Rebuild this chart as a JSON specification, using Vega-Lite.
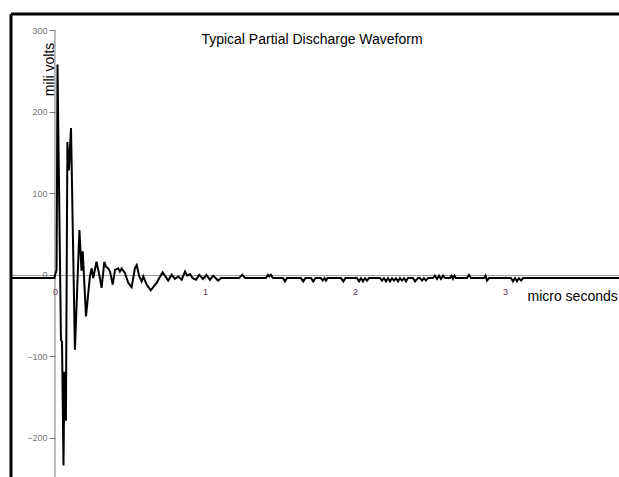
{
  "$schema": "https://vega.github.io/schema/vega-lite/v6.json",
  "width": 608,
  "height": 463,
  "autosize": {"type": "none"},
  "padding": {"left": 11, "top": 14, "right": 0, "bottom": 0},
  "background": "white",
  "config": {"view": {"stroke": null}, "font": "Liberation Sans"},
  "title": {"text": "Typical Partial Discharge Waveform", "fontSize": 14, "fontWeight": "normal", "color": "black", "anchor": "middle", "frame": "group", "dx": -3, "offset": -34, "font": "Liberation Sans"},
  "layer": [
    {
      "data": {"values": [{}]},
      "mark": {"type": "rule", "color": "#7a7a7a", "strokeWidth": 1},
      "encoding": {"x": {"datum": 0, "type": "quantitative"}, "y": {"datum": -250, "type": "quantitative"}, "y2": {"datum": 300}}
    },
    {
      "data": {"values": [
        {"t": -0.293, "mv": -4}, {"t": -0.005, "mv": -4}, {"t": 0.011, "mv": 6}, {"t": 0.017, "mv": 258},
        {"t": 0.040, "mv": -80}, {"t": 0.047, "mv": -82}, {"t": 0.057, "mv": -234}, {"t": 0.063, "mv": -119},
        {"t": 0.073, "mv": -179}, {"t": 0.083, "mv": 163}, {"t": 0.093, "mv": 128}, {"t": 0.107, "mv": 180},
        {"t": 0.133, "mv": -92}, {"t": 0.163, "mv": 55}, {"t": 0.177, "mv": 5}, {"t": 0.185, "mv": 29},
        {"t": 0.207, "mv": -51}, {"t": 0.233, "mv": -2}, {"t": 0.245, "mv": 8}, {"t": 0.255, "mv": -4},
        {"t": 0.277, "mv": 16}, {"t": 0.300, "mv": -4}, {"t": 0.311, "mv": -16}, {"t": 0.329, "mv": 16},
        {"t": 0.340, "mv": 10}, {"t": 0.355, "mv": 8}, {"t": 0.367, "mv": 4}, {"t": 0.385, "mv": -12},
        {"t": 0.400, "mv": 6}, {"t": 0.422, "mv": 8}, {"t": 0.433, "mv": 4}, {"t": 0.445, "mv": 8},
        {"t": 0.467, "mv": 2}, {"t": 0.489, "mv": -10}, {"t": 0.511, "mv": -15}, {"t": 0.533, "mv": 8},
        {"t": 0.545, "mv": 12}, {"t": 0.562, "mv": -2}, {"t": 0.578, "mv": -8}, {"t": 0.589, "mv": -2},
        {"t": 0.611, "mv": -12}, {"t": 0.638, "mv": -19}, {"t": 0.655, "mv": -15}, {"t": 0.678, "mv": -10},
        {"t": 0.695, "mv": -4}, {"t": 0.718, "mv": 3}, {"t": 0.733, "mv": -1}, {"t": 0.755, "mv": -7},
        {"t": 0.778, "mv": 0}, {"t": 0.800, "mv": -5}, {"t": 0.822, "mv": -2}, {"t": 0.845, "mv": -6},
        {"t": 0.867, "mv": 4}, {"t": 0.882, "mv": -1}, {"t": 0.900, "mv": 1}, {"t": 0.918, "mv": -4},
        {"t": 0.940, "mv": -6}, {"t": 0.962, "mv": 0}, {"t": 0.987, "mv": -5}, {"t": 1.010, "mv": 0},
        {"t": 1.033, "mv": -6}, {"t": 1.055, "mv": -1}, {"t": 1.087, "mv": -7}, {"t": 1.107, "mv": -4},
        {"t": 1.227, "mv": -4}, {"t": 1.249, "mv": 0}, {"t": 1.267, "mv": -4},
        {"t": 1.407, "mv": -4}, {"t": 1.420, "mv": 0}, {"t": 1.430, "mv": -2}, {"t": 1.440, "mv": 0}, {"t": 1.453, "mv": -4},
        {"t": 1.520, "mv": -4}, {"t": 1.533, "mv": -8}, {"t": 1.547, "mv": -4},
        {"t": 1.640, "mv": -4}, {"t": 1.655, "mv": -8}, {"t": 1.670, "mv": -4},
        {"t": 1.707, "mv": -4}, {"t": 1.722, "mv": -8}, {"t": 1.737, "mv": -4},
        {"t": 1.773, "mv": -4}, {"t": 1.785, "mv": -7}, {"t": 1.797, "mv": -4}, {"t": 1.807, "mv": -7}, {"t": 1.817, "mv": -4},
        {"t": 1.907, "mv": -4}, {"t": 1.922, "mv": -8}, {"t": 1.937, "mv": -4},
        {"t": 2.013, "mv": -4}, {"t": 2.027, "mv": -8}, {"t": 2.040, "mv": -4}, {"t": 2.053, "mv": -8}, {"t": 2.067, "mv": -4}, {"t": 2.080, "mv": -7}, {"t": 2.093, "mv": -4},
        {"t": 2.167, "mv": -4}, {"t": 2.180, "mv": -7}, {"t": 2.193, "mv": -4}, {"t": 2.207, "mv": -8}, {"t": 2.220, "mv": -4},
        {"t": 2.233, "mv": -8}, {"t": 2.247, "mv": -4}, {"t": 2.260, "mv": -7}, {"t": 2.273, "mv": -4}, {"t": 2.287, "mv": -8},
        {"t": 2.300, "mv": -4}, {"t": 2.313, "mv": -7}, {"t": 2.327, "mv": -4}, {"t": 2.340, "mv": -8}, {"t": 2.353, "mv": -4},
        {"t": 2.387, "mv": -4}, {"t": 2.400, "mv": -8}, {"t": 2.420, "mv": -4},
        {"t": 2.433, "mv": -4}, {"t": 2.447, "mv": -7}, {"t": 2.460, "mv": -4}, {"t": 2.473, "mv": -7}, {"t": 2.487, "mv": -4},
        {"t": 2.520, "mv": -4}, {"t": 2.533, "mv": -1}, {"t": 2.547, "mv": -5}, {"t": 2.560, "mv": -1}, {"t": 2.573, "mv": -5}, {"t": 2.587, "mv": -1}, {"t": 2.600, "mv": -4},
        {"t": 2.633, "mv": -4}, {"t": 2.643, "mv": -1}, {"t": 2.653, "mv": -5}, {"t": 2.663, "mv": -1}, {"t": 2.673, "mv": -4},
        {"t": 2.747, "mv": -4}, {"t": 2.760, "mv": 0}, {"t": 2.773, "mv": -4},
        {"t": 2.860, "mv": -4}, {"t": 2.870, "mv": -1}, {"t": 2.880, "mv": -7}, {"t": 2.893, "mv": -4},
        {"t": 3.040, "mv": -4}, {"t": 3.053, "mv": -8}, {"t": 3.067, "mv": -4}, {"t": 3.080, "mv": -8}, {"t": 3.093, "mv": -4}, {"t": 3.107, "mv": -7}, {"t": 3.120, "mv": -4},
        {"t": 3.800, "mv": -4}
      ]},
      "mark": {"type": "line", "color": "black", "strokeWidth": 2, "clip": true},
      "encoding": {
        "x": {
          "field": "t", "type": "quantitative",
          "scale": {"domain": [-0.293, 3.76], "nice": false, "zero": false},
          "axis": {
            "orient": "bottom", "offset": -202, "values": [0, 1, 2, 3], "format": "d",
            "domain": true, "domainColor": "#a0a0a0", "domainWidth": 1,
            "grid": false, "tickSize": 4, "tickColor": "#a0a0a0",
            "labelColor": "#603050", "labelFontSize": 9, "labelPadding": 8, "labelFlush": false,
            "title": "micro seconds", "titleFontSize": 14, "titleFontWeight": "normal", "titleColor": "black",
            "titleX": 516, "titleY": 25, "titleAlign": "left", "titleBaseline": "alphabetic"
          }
        },
        "y": {
          "field": "mv", "type": "quantitative",
          "scale": {"domain": [-248, 320], "nice": false, "zero": false},
          "axis": {
            "orient": "left", "offset": -44, "values": [-200, -100, 0, 100, 200, 300],
            "domain": false, "grid": false, "tickSize": 6, "tickColor": "#7a7a7a",
            "labelColor": "#777777", "labelFontSize": 9, "labelPadding": 2, "labelFlush": false, "labelOverlap": false,
            "title": "mili volts", "titleFontSize": 14, "titleFontWeight": "normal", "titleColor": "black",
            "titleAngle": 270, "titleX": -2, "titleY": 55, "titleAlign": "center", "titleBaseline": "alphabetic"
          }
        }
      }
    },
    {
      "data": {"values": [{}]},
      "mark": {"type": "rule", "color": "black", "strokeWidth": 3},
      "encoding": {"x": {"datum": -0.293, "type": "quantitative"}}
    },
    {
      "data": {"values": [{}]},
      "mark": {"type": "rule", "color": "black", "strokeWidth": 3},
      "encoding": {"y": {"datum": 320, "type": "quantitative"}}
    }
  ]
}
